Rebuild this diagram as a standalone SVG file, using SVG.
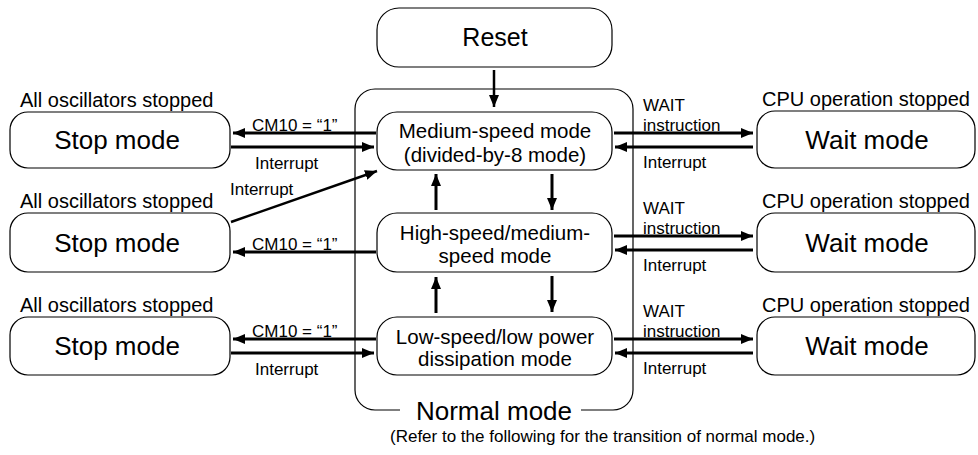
<svg xmlns="http://www.w3.org/2000/svg" width="978" height="455" viewBox="0 0 978 455">
<defs>
<marker id="ah" viewBox="0 0 12 10" refX="12" refY="5" markerWidth="12" markerHeight="10" markerUnits="userSpaceOnUse" orient="auto">
<path d="M0,0 L12,5 L0,10 Z" fill="#000"/>
</marker>
</defs>
<style>
text{font-family:"Liberation Sans",Arial,sans-serif;fill:#000}
.box{fill:#fff;stroke:#000;stroke-width:1.2}
.big{font-size:26px;text-anchor:middle}
.node{font-size:20.5px;text-anchor:middle}
.cap{font-size:20px}
.lbl{font-size:17px}
.arr{stroke:#000;stroke-width:3;fill:none;marker-end:url(#ah)}
</style>
<g id="normal-mode">
<path d="M400,410 L375,410 A20,20 0 0 1 355,390 L355,109 A20,20 0 0 1 375,89 L613,89 A20,20 0 0 1 633,109 L633,390 A20,20 0 0 1 613,410 L581,410" fill="none" stroke="#000" stroke-width="1.2"/>
<text class="big" x="494" y="420">Normal mode</text>
</g>
<g id="reset"><rect class="box" x="377" y="8" width="235" height="59" rx="22"/><text class="node" x="495" y="46" style="font-size:25px">Reset</text></g>
<g id="medium"><rect class="box" x="377" y="112" width="235" height="58" rx="20"/><text class="node" x="495" y="138">Medium-speed mode</text><text class="node" x="495" y="162">(divided-by-8 mode)</text></g>
<g id="high"><rect class="box" x="377" y="213" width="235" height="59" rx="20"/><text class="node" x="495" y="240">High-speed/medium-</text><text class="node" x="495" y="263">speed mode</text></g>
<g id="low"><rect class="box" x="377" y="317" width="235" height="58" rx="20"/><text class="node" x="495" y="344">Low-speed/low power</text><text class="node" x="495" y="366">dissipation mode</text></g>
<g id="stop1"><text class="cap" x="20" y="107">All oscillators stopped</text><rect class="box" x="10" y="112" width="220" height="56" rx="18"/><text class="big" x="117" y="149">Stop mode</text></g>
<g id="stop2"><text class="cap" x="20" y="208">All oscillators stopped</text><rect class="box" x="10" y="213" width="220" height="59" rx="18"/><text class="big" x="117" y="252">Stop mode</text></g>
<g id="stop3"><text class="cap" x="20" y="312">All oscillators stopped</text><rect class="box" x="10" y="317" width="220" height="58" rx="18"/><text class="big" x="117" y="355">Stop mode</text></g>
<g id="wait1"><text class="cap" x="762" y="106">CPU operation stopped</text><rect class="box" x="757" y="111" width="218" height="57" rx="18"/><text class="big" x="867" y="149">Wait mode</text></g>
<g id="wait2"><text class="cap" x="762" y="208">CPU operation stopped</text><rect class="box" x="757" y="213" width="218" height="59" rx="18"/><text class="big" x="867" y="252">Wait mode</text></g>
<g id="wait3"><text class="cap" x="762" y="312">CPU operation stopped</text><rect class="box" x="757" y="317" width="218" height="58" rx="18"/><text class="big" x="867" y="355">Wait mode</text></g>
<g id="connectors">
<line class="arr" x1="494" y1="70" x2="494" y2="107" style="stroke-width:2.5"/>
<line class="arr" x1="376" y1="133" x2="233" y2="133"/>
<line class="arr" x1="231" y1="147" x2="374" y2="147"/>
<line class="arr" x1="614" y1="133" x2="753" y2="133"/>
<line class="arr" x1="753" y1="147" x2="615" y2="147"/>
<line class="arr" x1="231" y1="222" x2="377" y2="171" style="stroke-width:2.5"/>
<line class="arr" x1="376" y1="252" x2="233" y2="252"/>
<line class="arr" x1="614" y1="236" x2="753" y2="236"/>
<line class="arr" x1="753" y1="250" x2="615" y2="250"/>
<line class="arr" x1="376" y1="339" x2="233" y2="339"/>
<line class="arr" x1="231" y1="353" x2="374" y2="353"/>
<line class="arr" x1="614" y1="339" x2="753" y2="339"/>
<line class="arr" x1="753" y1="353" x2="615" y2="353"/>
<line class="arr" x1="436" y1="210" x2="436" y2="174"/>
<line class="arr" x1="552" y1="174" x2="552" y2="210"/>
<line class="arr" x1="436" y1="313" x2="436" y2="277"/>
<line class="arr" x1="552" y1="276" x2="552" y2="312"/>
<text class="lbl" x="252" y="131">CM10 = “1”</text>
<text class="lbl" x="255" y="169">Interrupt</text>
<text class="lbl" x="643" y="111">WAIT</text>
<text class="lbl" x="643" y="131">instruction</text>
<text class="lbl" x="643" y="168">Interrupt</text>
<text class="lbl" x="230" y="195">Interrupt</text>
<text class="lbl" x="252" y="250">CM10 = “1”</text>
<text class="lbl" x="643" y="214">WAIT</text>
<text class="lbl" x="643" y="234">instruction</text>
<text class="lbl" x="643" y="271">Interrupt</text>
<text class="lbl" x="252" y="337">CM10 = “1”</text>
<text class="lbl" x="255" y="375">Interrupt</text>
<text class="lbl" x="643" y="317">WAIT</text>
<text class="lbl" x="643" y="337">instruction</text>
<text class="lbl" x="643" y="374">Interrupt</text>
</g>
<text x="390" y="442" style="font-size:17px">(Refer to the following for the transition of normal mode.)</text>
</svg>
